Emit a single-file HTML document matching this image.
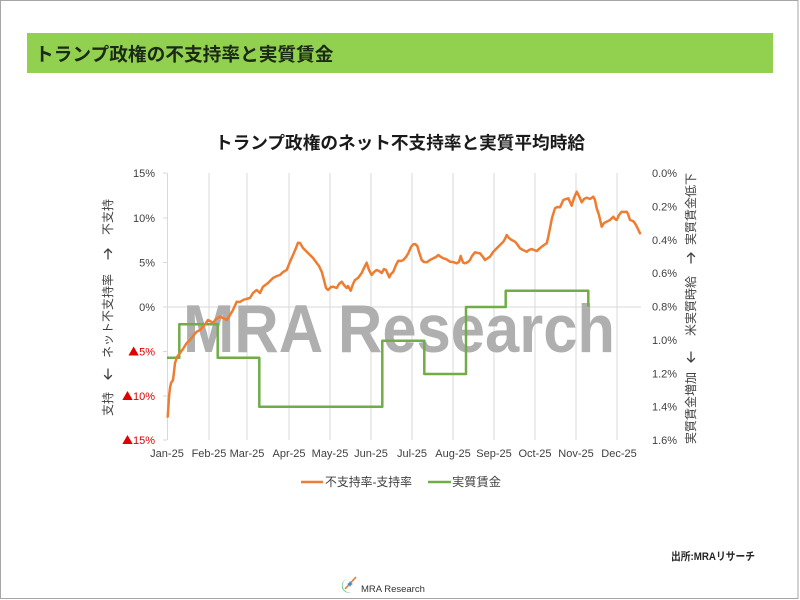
<!DOCTYPE html>
<html><head><meta charset="utf-8">
<style>
html,body{margin:0;padding:0;background:#fff;}
body{width:800px;height:600px;overflow:hidden;position:relative;}
svg{position:absolute;left:0;top:0;}
</style></head>
<body>
<svg width="800" height="600" viewBox="0 0 800 600" xmlns="http://www.w3.org/2000/svg" font-family="'Liberation Sans','Noto Sans CJK JP',sans-serif">
  <!-- page border -->
  <rect x="0.5" y="0.5" width="797.5" height="598" fill="#fff" stroke="#a6a6a6" stroke-width="1"/>
  <!-- header bar -->
  <rect x="27" y="33" width="746" height="40" fill="#92d050"/>
  <text x="35" y="61" font-size="18.7" font-weight="bold" fill="#1b2a16" font-family="'Liberation Sans','Noto Sans CJK JP',sans-serif">トランプ政権の不支持率と実質賃金</text>

  <!-- chart title -->
  <text x="400" y="149" text-anchor="middle" font-size="17.5" font-weight="bold" fill="#1a1a1a" textLength="370" lengthAdjust="spacingAndGlyphs">トランプ政権のネット不支持率と実質平均時給</text>

  <!-- vertical gridlines -->
  <g stroke="#d9d9d9" stroke-width="1">
    <line x1="167.5" y1="173" x2="167.5" y2="440"/>
    <line x1="209" y1="173" x2="209" y2="440"/>
    <line x1="247" y1="173" x2="247" y2="440"/>
    <line x1="289" y1="173" x2="289" y2="440"/>
    <line x1="330" y1="173" x2="330" y2="440"/>
    <line x1="371" y1="173" x2="371" y2="440"/>
    <line x1="412" y1="173" x2="412" y2="440"/>
    <line x1="453" y1="173" x2="453" y2="440"/>
    <line x1="494" y1="173" x2="494" y2="440"/>
    <line x1="535" y1="173" x2="535" y2="440"/>
    <line x1="576" y1="173" x2="576" y2="440"/>
    <line x1="617" y1="173" x2="617" y2="440"/>
    <!-- 0% line -->
    <line x1="167" y1="307" x2="641" y2="307"/>
    <!-- left ticks -->
    <line x1="163" y1="173" x2="167" y2="173"/>
    <line x1="163" y1="218" x2="167" y2="218"/>
    <line x1="163" y1="262.5" x2="167" y2="262.5"/>
    <line x1="163" y1="307" x2="167" y2="307"/>
    <line x1="163" y1="351.5" x2="167" y2="351.5"/>
    <line x1="163" y1="396" x2="167" y2="396"/>
    <line x1="163" y1="440" x2="167" y2="440"/>
  </g>

  <!-- watermark -->
  <text x="183" y="352" font-size="68" font-weight="bold" fill="#afafaf" textLength="432" lengthAdjust="spacingAndGlyphs">MRA Research</text>

  <!-- left axis tick labels -->
  <g font-size="11" fill="#404040" text-anchor="end">
    <text x="155" y="177">15%</text>
    <text x="155" y="222">10%</text>
    <text x="155" y="266.5">5%</text>
    <text x="155" y="311">0%</text>
  </g>
  <g font-size="11" fill="#e00000" text-anchor="end">
    <text x="155" y="355.5"><tspan font-family="'Noto Sans CJK JP',sans-serif">▲</tspan>5%</text>
    <text x="155" y="400"><tspan font-family="'Noto Sans CJK JP',sans-serif">▲</tspan>10%</text>
    <text x="155" y="444"><tspan font-family="'Noto Sans CJK JP',sans-serif">▲</tspan>15%</text>
  </g>

  <!-- right axis tick labels -->
  <g font-size="11" fill="#404040">
    <text x="652" y="177">0.0%</text>
    <text x="652" y="210.4">0.2%</text>
    <text x="652" y="243.8">0.4%</text>
    <text x="652" y="277.1">0.6%</text>
    <text x="652" y="310.5">0.8%</text>
    <text x="652" y="343.9">1.0%</text>
    <text x="652" y="377.3">1.2%</text>
    <text x="652" y="410.6">1.4%</text>
    <text x="652" y="444">1.6%</text>
  </g>

  <!-- x labels -->
  <g font-size="11" fill="#404040" text-anchor="middle">
    <text x="167" y="457">Jan-25</text>
    <text x="209" y="457">Feb-25</text>
    <text x="247" y="457">Mar-25</text>
    <text x="289" y="457">Apr-25</text>
    <text x="330" y="457">May-25</text>
    <text x="371" y="457">Jun-25</text>
    <text x="412" y="457">Jul-25</text>
    <text x="453" y="457">Aug-25</text>
    <text x="494" y="457">Sep-25</text>
    <text x="535" y="457">Oct-25</text>
    <text x="576" y="457">Nov-25</text>
    <text x="619" y="457">Dec-25</text>
  </g>

  <!-- left axis title (rotated) -->
  <g font-size="12" fill="#404040" text-anchor="middle">
    <text transform="translate(112,404) rotate(-90)">支持</text>
    <text transform="translate(112,316) rotate(-90)">ネット不支持率</text>
    <text transform="translate(112,217) rotate(-90)">不支持</text>
  </g>
  <!-- arrows drawn -->
  <g fill="none" stroke="#404040" stroke-width="1.3" stroke-linecap="round" stroke-linejoin="round">
    <!-- left down arrow -->
    <path d="M108,369 V379 M104.5,375.5 L108,379 L111.5,375.5"/>
    <!-- left up arrow -->
    <path d="M108,259 V249 M104.5,252.5 L108,249 L111.5,252.5"/>
    <!-- right down arrow -->
    <path d="M691,352 V362 M687.5,358.5 L691,362 L694.5,358.5"/>
    <!-- right up arrow -->
    <path d="M691,263 V253 M687.5,256.5 L691,253 L694.5,256.5"/>
  </g>

  <!-- right axis title (rotated) -->
  <g font-size="12" fill="#404040" text-anchor="middle">
    <text transform="translate(695,408) rotate(-90)">実質賃金増加</text>
    <text transform="translate(695,306) rotate(-90)">米実質時給</text>
    <text transform="translate(695,209) rotate(-90)">実質賃金低下</text>
  </g>

  <!-- green series -->
  <path d="M167,357.7 H179.3 V324.3 H217.7 V357.7 H259.3 V406.7 H382.3 V340.7 H424.3 V374 H466 V307 H505.7 V290.7 H588.3 V306.7" fill="none" stroke="#70ad47" stroke-width="2.5" stroke-linejoin="round"/>

  <!-- orange series -->
  <polyline fill="none" stroke="#ed7d31" stroke-width="2.5" stroke-linejoin="round" stroke-linecap="round" points="
167.7,416.7 168.5,405 169,396.7 170,388 171,383 173,380 174,372 175,363 177,357 180,353 183,349 186.7,343 190,340 193,336 196.7,331.7 200,330 203,326.7 206,323 208,320 210,321 213,323 216,319 220,316.7 223,318 226.7,320 230,315 233,310 236.7,301.7 240,302 243,300 246,299 250,298 253,293 256.7,290 260,293 263,286.7 268,283 273,278 277,276 280,275 283,272 286.7,270 290,261.7 293,255 296,248 298,242.7 300,243 303,248 306.7,251.7 310,255 313,258 316.7,263 319,266 321.7,271.7 324,280 326,288 328,290 331,287 333,286.7 336.7,288 339,284 341.7,281.7 344,285 346.7,288 348,286 350.7,290.7 353,284 355,280 358,278 361.7,273 364,268 366.7,262.7 369,270 371.7,275 374,272 376.7,270 379,271 381.7,273 384,269 386,270 389.3,277.3 391,274 393.3,271.7 396,265 398.3,260.7 401,261 403.3,260 406,257 408.3,253.3 411,247 413.3,244.3 415,244 417.3,246 419,252 421.7,260 424,262 426.7,262.3 430,260 433.3,258.3 436,257 438.3,255 441,257 443.3,258.3 446,259 450,261.7 453,262 456.7,263.3 459,262 460.7,256 462,260 463.3,262.7 465,263.3 468,262 470,260 472,256 475,252.3 478,253 480,253.3 483,257 485,260 488,258 490,256.7 493.3,251.7 496,249 498.3,246.7 501,244 503.3,241.7 505,239 506.7,235 509,238 511.7,240 515,241.7 517,244 520,248.3 523,250 526.7,251.7 529,250 531.7,249 534,250 536.7,251 539,249 541.7,246.7 544,245 546.7,243.3 548,238 550,228.3 552,218 555,208.3 557,207 560,207.3 562,203 563.3,200 566,199 568.3,198.3 570,202 571.7,205.7 574,198 576.7,191.7 579,196 581.7,202.3 584,199 586.7,197.7 590,199 593.3,196.7 595,200 596.7,208.3 599,215 601.7,226.7 604,223 606.7,221.7 610,220 613.3,216.7 615,219 616.7,220 619,215 621.7,211.7 624,212 626.7,211.7 628,214 630,220 633,221 635,223.3 637,227 640,233.3"/>

  <!-- legend -->
  <line x1="301" y1="482" x2="323" y2="482" stroke="#ed7d31" stroke-width="2.5"/>
  <text x="325" y="486" font-size="12" fill="#404040" textLength="87" lengthAdjust="spacingAndGlyphs">不支持率-支持率</text>
  <line x1="428" y1="482" x2="451" y2="482" stroke="#70ad47" stroke-width="2.5"/>
  <text x="452" y="486" font-size="12" fill="#404040" textLength="49" lengthAdjust="spacingAndGlyphs">実質賃金</text>

  <!-- source -->
  <text x="671" y="560" font-size="11" font-weight="bold" fill="#262626" textLength="84" lengthAdjust="spacingAndGlyphs">出所:MRAリサーチ</text>

  <!-- logo -->
  <path d="M347,579 A7,7 0 1 0 352,592 A6,6 0 0 1 347,579 Z" fill="#3cb878"/>
  <line x1="345" y1="589" x2="356" y2="577" stroke="#e8792a" stroke-width="1.6"/>
  <path d="M349,583 l1,-2 l1,2 l2,1 l-2,1 l-1,2 l-1,-2 l-2,-1 z" fill="#3c8ad0"/>
  <text x="361" y="592" font-size="9.5" fill="#333" font-family="'Liberation Sans',sans-serif">MRA Research</text>
</svg>
</body></html>
